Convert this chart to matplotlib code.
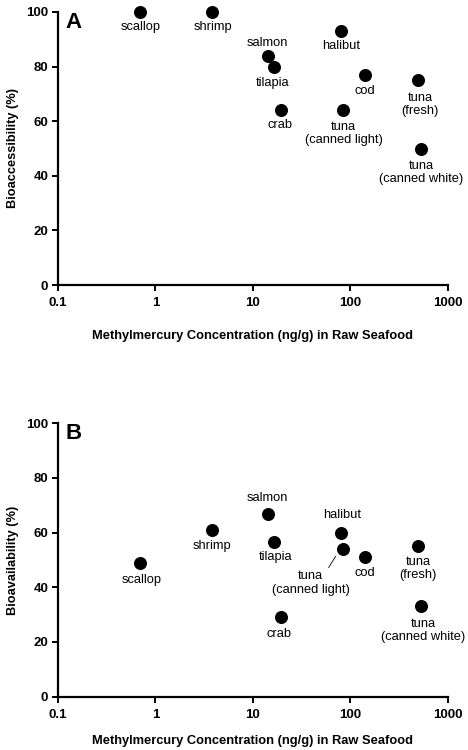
import matplotlib
matplotlib.use("Agg")
import matplotlib.pyplot as plt
from matplotlib.ticker import FixedLocator, NullLocator

plt.rcParams['font.family'] = ['Liberation Sans', 'DejaVu Sans']

# seafood types and methylmercury concentration (ng/g)
names = ["scallop", "shrimp", "salmon", "tilapia", "crab", "halibut",
         "tuna\n(canned light)", "cod", "tuna\n(fresh)", "tuna\n(canned white)"]
mehg = [0.70, 3.8, 14.4, 16.3, 19.2, 81, 83, 141, 492, 533]

# panel A: bioaccessibility (%)
bioaccess = [100, 100, 84, 80, 64, 93, 64, 77, 75, 50]
# panel B: bioavailability (%)
bioavail = [49, 61, 67, 56.5, 29, 60, 54, 51, 55, 33]

xticks = [0.1, 1, 10, 100, 1000]
xticklabels = ["0.1", "1", "10", "100", "1000"]
yticks = [0, 20, 40, 60, 80, 100]

# label offsets in pixels (dx, dy) relative to each point
offs_a = [(0, -15), (1, -15), (-1, 13), (-1, -16), (-1, -15), (0, -15),
          (1, -23), (0, -16), (2, -24), (0, -24)]
offs_b = [(1, -17), (0, -16), (-1, 16), (2, -15), (-2, -17), (1, 18),
          (-32, -34), (0, -16), (0, -22), (2, -24)]

fig = plt.figure(figsize=(4.68, 7.5), dpi=100)
ax_a = fig.add_axes([0.124, 0.620, 0.833, 0.364])
ax_b = fig.add_axes([0.124, 0.0711, 0.833, 0.3645])


def style_axes(ax, ylabel, letter, xpad):
    ax.set_xscale('log')
    ax.set_xlim(0.1, 1000)
    ax.set_ylim(0, 100)
    ax.xaxis.set_major_locator(FixedLocator(xticks))
    ax.xaxis.set_minor_locator(NullLocator())
    ax.set_xticklabels(xticklabels)
    ax.set_yticks(yticks)
    for s in ['top', 'right']:
        ax.spines[s].set_visible(False)
    for s in ['left', 'bottom']:
        ax.spines[s].set_linewidth(1.6)
    ax.tick_params(width=1.4, length=4, labelsize=9.5, pad=3)
    ax.tick_params(axis='x', pad=5)
    for lab in ax.get_xticklabels() + ax.get_yticklabels():
        lab.set_fontweight('bold')
    ax.set_ylabel(ylabel, fontsize=9.2, fontweight='bold', labelpad=5)
    ax.set_xlabel("Methylmercury Concentration (ng/g) in Raw Seafood",
                  fontsize=9.3, fontweight='bold', labelpad=xpad)
    ax.text(0.02, 1.0, letter, transform=ax.transAxes, fontsize=16,
            fontweight='bold', ha='left', va='top')


def draw(ax, yvals, offs):
    ax.scatter(mehg, yvals, s=70, color='black', zorder=3, clip_on=False)
    for name, x, y, (dx, dy) in zip(names, mehg, yvals, offs):
        ax.annotate(name, (x, y), xytext=(dx, dy), textcoords='offset pixels',
                    ha='center', va='center', fontsize=9.3, linespacing=1.15,
                    annotation_clip=False)


style_axes(ax_a, "Bioaccessibility (%)", "A", 15)
draw(ax_a, bioaccess, offs_a)

style_axes(ax_b, "Bioavailability (%)", "B", 10)
draw(ax_b, bioavail, offs_b)
# leader line for canned light tuna in panel B
i = names.index("tuna\n(canned light)")
ax_b.annotate("", xy=(mehg[i] * 0.88, bioavail[i] - 1.8), xytext=(-10, -16),
              textcoords='offset pixels',
              arrowprops=dict(arrowstyle='-', color='black', lw=0.6))

fig.savefig("out.png", dpi=100)
